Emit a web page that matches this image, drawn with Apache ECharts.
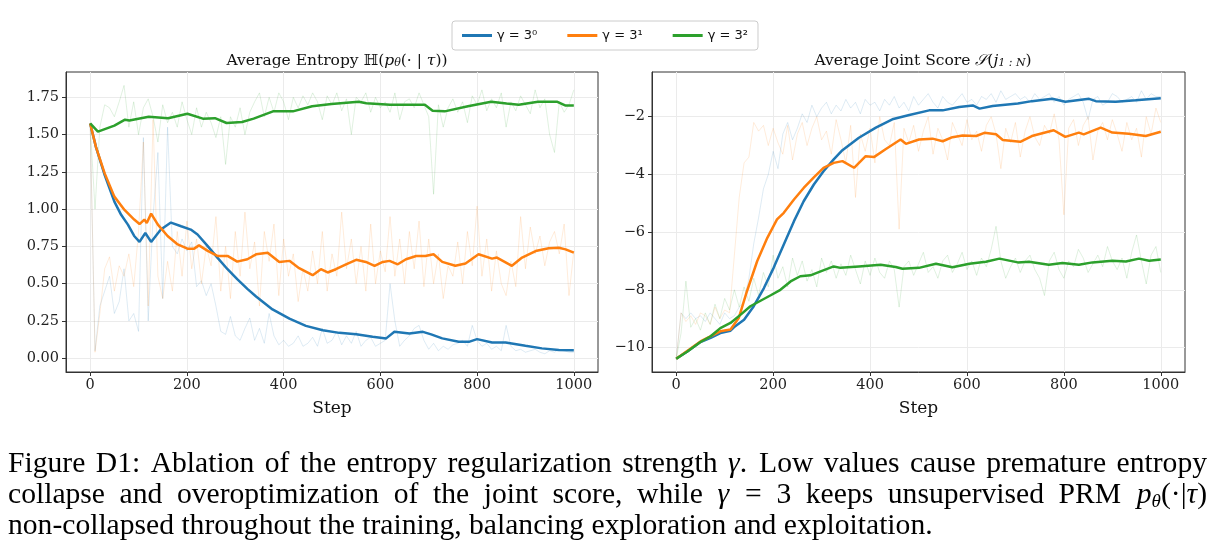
<!DOCTYPE html>
<html>
<head>
<meta charset="utf-8">
<script src="https://cdn.jsdelivr.net/npm/echarts@6/dist/echarts.min.js"></script>
<style>
html,body{margin:0;padding:0;background:#fff;}
#chart{width:1222px;height:560px;}
</style>
</head>
<body>
<div id="chart"></div>
<script>
// raw samples every 10 steps
var rawSteps = [];
for (var k = 0; k <= 100; k++) rawSteps.push(k * 10);

var entropyRaw0 = [1.57,0.05,0.35,0.45,0.55,0.30,0.38,0.60,0.25,0.30,0.18,1.48,0.25,0.95,1.38,0.40,1.55,0.75,0.70,0.80,0.72,0.78,0.48,0.52,0.42,0.50,0.35,0.18,0.16,0.28,0.15,0.12,0.20,0.27,0.12,0.20,0.10,0.30,0.15,0.09,0.12,0.08,0.10,0.15,0.08,0.10,0.14,0.08,0.20,0.10,0.12,0.18,0.09,0.15,0.10,0.18,0.08,0.12,0.14,0.08,0.10,0.12,0.50,0.25,0.08,0.12,0.15,0.20,0.22,0.12,0.06,0.10,0.05,0.08,0.06,0.09,0.10,0.12,0.08,0.22,0.12,0.08,0.10,0.06,0.08,0.05,0.22,0.08,0.05,0.06,0.04,0.05,0.06,0.04,0.03,0.05,0.04,0.06,0.05,0.04,0.04];
var entropyRaw1 = [1.57,0.04,0.30,0.60,0.68,0.45,0.62,0.55,0.70,0.48,0.85,1.45,0.35,1.60,0.55,0.40,0.65,0.45,0.85,0.55,0.92,0.60,0.80,0.50,0.75,0.62,0.95,0.45,0.75,0.40,0.85,0.55,0.98,0.60,0.78,0.35,0.85,0.65,0.90,0.42,0.80,0.55,0.70,0.38,0.60,0.45,0.72,0.50,0.85,0.45,0.70,0.55,0.98,0.60,0.80,0.50,0.75,0.45,0.90,0.50,0.72,0.58,0.95,0.55,0.80,0.50,0.85,0.60,0.92,0.48,0.80,0.50,0.70,0.40,0.62,0.55,0.78,0.50,0.85,0.62,1.02,0.55,0.80,0.45,0.72,0.50,0.42,0.65,0.48,0.95,0.60,0.88,0.70,0.82,0.62,0.78,0.85,0.70,0.90,0.42,0.72];
var entropyRaw2 = [1.57,1.00,1.55,1.70,1.68,1.62,1.72,1.83,1.55,1.72,1.50,1.68,1.74,1.62,1.45,1.70,1.58,1.65,1.55,1.72,1.60,1.50,1.68,1.55,1.65,1.58,1.48,1.62,1.30,1.62,1.55,1.68,1.50,1.65,1.72,1.78,1.62,1.75,1.65,1.78,1.72,1.60,1.75,1.68,1.76,1.70,1.78,1.72,1.60,1.76,1.70,1.78,1.66,1.74,1.50,1.75,1.72,1.78,1.65,1.75,1.68,1.72,1.65,1.78,1.60,1.72,1.74,1.68,1.78,1.70,1.62,1.10,1.70,1.55,1.68,1.74,1.65,1.72,1.58,1.76,1.70,1.80,1.66,1.74,1.68,1.78,1.55,1.72,1.66,1.76,1.70,1.64,1.80,1.68,1.74,1.50,1.38,1.72,1.65,1.70,1.80];

var scoreRaw0 = [-10.4,-8.8,-9.0,-8.8,-9.0,-8.9,-9.1,-8.8,-9.0,-9.2,-8.8,-9.0,-8.9,-8.6,-8.4,-7.6,-6.4,-5.5,-4.5,-4.0,-3.2,-3.8,-2.6,-2.2,-2.8,-2.4,-1.9,-2.2,-1.6,-2.0,-1.7,-1.5,-1.9,-1.6,-1.8,-1.4,-1.7,-1.5,-1.9,-1.4,-1.6,-1.5,-1.8,-1.4,-1.6,-1.3,-1.7,-1.5,-1.8,-1.3,-1.6,-1.4,-1.2,-1.5,-1.7,-1.3,-1.5,-1.6,-1.4,-1.2,-1.5,-1.4,-1.6,-1.3,-1.4,-1.2,-1.5,-1.1,-1.4,-1.3,-1.2,-1.4,-1.3,-1.5,-1.2,-1.4,-1.3,-1.2,-1.5,-1.3,-1.6,-1.4,-1.3,-1.2,-1.5,-2.1,-1.4,-1.3,-1.6,-1.5,-1.2,-1.3,-1.5,-1.4,-1.3,-1.5,-1.1,-1.4,-1.2,-1.3,-1.3];
var scoreRaw1 = [-10.4,-8.8,-9.1,-8.9,-9.2,-8.8,-8.9,-9.2,-8.6,-9.0,-8.7,-8.8,-6.8,-4.8,-3.6,-3.4,-2.2,-2.5,-2.3,-3.0,-2.4,-2.9,-3.3,-2.3,-3.5,-2.6,-2.2,-3.0,-2.4,-2.0,-2.8,-2.5,-3.3,-2.1,-2.8,-3.6,-2.3,-4.8,-2.6,-3.2,-2.4,-3.6,-2.0,-2.8,-3.0,-2.2,-5.9,-2.4,-2.9,-2.3,-3.2,-2.5,-2.0,-3.3,-2.4,-2.8,-3.5,-2.2,-2.6,-3.0,-2.1,-2.8,-2.5,-3.2,-2.3,-2.0,-2.6,-3.8,-2.4,-2.9,-2.2,-3.4,-2.5,-2.0,-2.7,-3.0,-2.3,-2.6,-1.9,-2.8,-5.4,-2.4,-2.1,-3.0,-2.3,-2.0,-3.5,-2.5,-2.2,-2.8,-2.1,-2.6,-3.2,-2.2,-2.8,-2.4,-3.4,-2.0,-2.6,-1.7,-2.2];
var scoreRaw2 = [-10.4,-9.5,-7.7,-9.3,-9.0,-9.4,-8.8,-9.2,-8.5,-9.0,-8.3,-8.7,-8.0,-8.6,-7.9,-8.4,-7.6,-8.2,-7.4,-7.9,-6.8,-7.6,-7.2,-7.9,-6.9,-7.5,-7.0,-7.7,-7.3,-7.9,-6.9,-7.4,-7.0,-7.6,-7.1,-7.5,-6.8,-7.3,-7.8,-7.0,-7.5,-6.9,-7.4,-7.6,-7.0,-7.3,-8.6,-7.2,-7.0,-7.5,-7.1,-6.7,-7.4,-7.2,-7.6,-7.0,-6.8,-7.4,-7.1,-6.7,-7.3,-7.0,-7.5,-6.9,-7.2,-6.6,-5.8,-7.0,-7.6,-7.2,-6.9,-7.4,-7.0,-6.8,-7.3,-7.6,-8.2,-7.0,-6.7,-7.3,-7.6,-7.0,-7.2,-6.6,-6.9,-7.4,-7.1,-6.8,-7.2,-6.5,-7.0,-7.3,-6.9,-7.6,-6.7,-6.1,-7.0,-7.8,-6.8,-6.5,-7.4];

// smoothed curves, [step, value]
var entropySmooth0 = [[0,1.575],[12,1.416],[30,1.228],[50,1.05],[64,0.962],[78,0.896],[91,0.82],[102,0.78],[114,0.84],[126,0.78],[146,0.863],[167,0.91],[188,0.885],[208,0.863],[222,0.83],[243,0.752],[263,0.675],[284,0.597],[304,0.53],[325,0.465],[343,0.414],[377,0.327],[412,0.265],[446,0.217],[481,0.188],[515,0.17],[550,0.16],[584,0.144],[612,0.133],[629,0.177],[660,0.166],[688,0.177],[705,0.16],[728,0.133],[762,0.11],[783,0.11],[800,0.128],[831,0.106],[859,0.106],[900,0.084],[934,0.066],[969,0.055],[1000,0.053]];
var entropySmooth1 = [[0,1.575],[12,1.416],[30,1.24],[50,1.084],[71,0.995],[91,0.93],[102,0.90],[112,0.93],[117,0.907],[126,0.97],[140,0.896],[160,0.82],[181,0.763],[201,0.735],[215,0.735],[225,0.757],[243,0.72],[263,0.686],[284,0.686],[304,0.648],[325,0.664],[343,0.697],[367,0.708],[391,0.646],[412,0.653],[432,0.604],[460,0.557],[477,0.597],[491,0.575],[508,0.597],[529,0.63],[550,0.66],[570,0.646],[588,0.62],[605,0.646],[619,0.653],[636,0.63],[653,0.664],[674,0.686],[693,0.686],[710,0.697],[728,0.646],[755,0.62],[776,0.635],[803,0.697],[831,0.668],[841,0.675],[872,0.62],[893,0.675],[921,0.719],[948,0.737],[969,0.741],[983,0.73],[1000,0.708]];
var entropySmooth2 = [[0,1.575],[16,1.52],[50,1.56],[72,1.60],[81,1.595],[121,1.62],[161,1.61],[201,1.64],[233,1.607],[258,1.61],[282,1.578],[314,1.585],[338,1.607],[378,1.656],[419,1.656],[459,1.69],[499,1.705],[555,1.72],[571,1.71],[620,1.70],[660,1.70],[692,1.70],[708,1.66],[733,1.656],[781,1.69],[829,1.72],[861,1.708],[886,1.70],[926,1.72],[966,1.72],[982,1.696],[1000,1.696]];

var scoreSmooth0 = [[0,-10.39],[23,-10.14],[50,-9.81],[71,-9.67],[91,-9.5],[112,-9.42],[119,-9.30],[140,-9.04],[160,-8.57],[181,-7.94],[201,-7.24],[222,-6.43],[243,-5.62],[263,-4.93],[284,-4.35],[304,-3.89],[325,-3.48],[343,-3.16],[377,-2.73],[412,-2.38],[446,-2.09],[481,-1.94],[522,-1.78],[550,-1.78],[584,-1.66],[612,-1.61],[626,-1.72],[653,-1.63],[705,-1.54],[734,-1.46],[776,-1.38],[803,-1.48],[852,-1.38],[866,-1.46],[907,-1.48],[948,-1.43],[1000,-1.36]];
var scoreSmooth1 = [[0,-10.39],[50,-9.79],[91,-9.44],[112,-9.38],[129,-8.98],[146,-8.05],[167,-7.01],[188,-6.2],[208,-5.56],[222,-5.33],[243,-4.87],[263,-4.47],[284,-4.1],[304,-3.77],[325,-3.6],[343,-3.54],[367,-3.77],[391,-3.37],[408,-3.40],[432,-3.13],[463,-2.79],[474,-2.94],[501,-2.79],[529,-2.76],[550,-2.85],[570,-2.71],[591,-2.65],[619,-2.67],[636,-2.56],[660,-2.61],[674,-2.81],[710,-2.87],[734,-2.67],[779,-2.47],[803,-2.70],[831,-2.55],[841,-2.61],[876,-2.38],[900,-2.55],[934,-2.59],[969,-2.67],[1000,-2.52]];
var scoreSmooth2 = [[0,-10.39],[23,-10.14],[50,-9.81],[71,-9.61],[91,-9.33],[112,-9.15],[133,-8.86],[153,-8.57],[174,-8.38],[195,-8.19],[215,-8.0],[236,-7.71],[256,-7.53],[277,-7.5],[298,-7.36],[325,-7.19],[339,-7.24],[377,-7.19],[422,-7.13],[453,-7.21],[467,-7.27],[501,-7.24],[536,-7.10],[570,-7.22],[605,-7.10],[639,-7.03],[667,-6.92],[705,-7.05],[728,-7.03],[769,-7.13],[797,-7.07],[831,-7.13],[859,-7.05],[900,-6.99],[928,-7.02],[955,-6.92],[976,-6.99],[1000,-6.95]];

var seriesNames = ['γ = 3⁰', 'γ = 3¹', 'γ = 3²'];
var colors = ['#1f77b4', '#ff7f0e', '#2ca02c'];
var xTicks = [0, 200, 400, 600, 800, 1000];
var entropyTicks = [0, 0.25, 0.5, 0.75, 1.0, 1.25, 1.5, 1.75];
var scoreTicks = [-10, -8, -6, -4, -2];

// caption lines; {m|..} italic math, {sub|..} subscript
var captionLines = [
  'Figure D1: Ablation of the entropy regularization strength {m|γ}. Low values cause premature entropy',
  'collapse and overoptimization of the joint score, while {m|γ} = 3 keeps unsupervised PRM {m|p}{sub|θ}(·|{m|τ})',
  'non-collapsed throughout the training, balancing exploration and exploitation.'
];
var captionJustify = [true, true, false];

function pairs(vals){
	var out = [];
	for (var i = 0; i < vals.length; i++) out.push([rawSteps[i], vals[i]]);
	return out;
}

var capFont = 'Liberation Serif';
var capSize = 29.6;
var capRich = {
	m: {fontFamily: capFont, fontSize: capSize, fontStyle: 'italic', color: '#000'},
	sub: {fontFamily: capFont, fontSize: 19, fontStyle: 'italic', color: '#000', padding: [12, 0, 0, 0]}
};
var measureCtx = document.createElement('canvas').getContext('2d');
function wordWidth(w){
	var plain = w.replace(/\{sub\|([^}]*)\}/g, '').replace(/\{m\|([^}]*)\}/g, '$1');
	measureCtx.font = capSize + 'px "' + capFont + '"';
	var wd = measureCtx.measureText(plain).width;
	var subs = w.match(/\{sub\|([^}]*)\}/g);
	if (subs) {
		measureCtx.font = '19px "' + capFont + '"';
		subs.forEach(function(s){ wd += measureCtx.measureText(s.slice(5, -1)).width; });
	}
	return wd;
}
function captionGraphics(){
	var out = [];
	var left = 8, right = 1207, top0 = 449, lineH = 31;
	captionLines.forEach(function(line, li){
		var top = top0 + li * lineH;
		if (!captionJustify[li]) {
			out.push({type: 'text', x: left, y: top, style: {text: line, fontFamily: capFont, fontSize: capSize, fill: '#000', rich: capRich, verticalAlign: 'top'}});
			return;
		}
		var words = line.split(' ');
		var total = 0;
		words.forEach(function(w){ total += wordWidth(w); });
		var gap = (right - left - total) / (words.length - 1);
		var x = left;
		words.forEach(function(w, wi){
			var last = wi === words.length - 1;
			out.push({type: 'text', x: last ? right : x, y: top,
				style: {text: w, fontFamily: capFont, fontSize: capSize, fill: '#000', rich: capRich, verticalAlign: 'top', align: last ? 'right' : 'left'}});
			x += wordWidth(w) + gap;
		});
	});
	return out;
}

var myChart = echarts.init(document.getElementById('chart'));
var serif = 'DejaVu Serif';
var tickFont = {fontFamily: serif, fontSize: 14.5, color: '#222'};

function xAxisFor(idx){
	return {
		type: 'value', gridIndex: idx, min: -50, max: 1050,
		name: 'Step', nameLocation: 'middle', nameGap: 28,
		nameTextStyle: {fontFamily: serif, fontSize: 17, color: '#111'},
		axisLine: {show: true, onZero: false, lineStyle: {color: '#333', width: 1}},
		axisTick: {show: true, length: 4, customValues: xTicks, lineStyle: {color: '#333'}},
		axisLabel: Object.assign({customValues: xTicks, margin: 6, formatter: function(v){ return String(v); }}, tickFont),
		splitLine: {show: true, lineStyle: {color: '#ebebeb', width: 1}}
	};
}
function yAxisFor(idx, min, max, ticks, fmt){
	return {
		type: 'value', gridIndex: idx, min: min, max: max,
		axisLine: {show: true, onZero: false, lineStyle: {color: '#333', width: 1}},
		axisTick: {show: true, length: 4, customValues: ticks, lineStyle: {color: '#333'}},
		axisLabel: Object.assign({customValues: ticks, margin: 7, formatter: fmt}, tickFont),
		splitLine: {show: true, lineStyle: {color: '#ebebeb', width: 1}}
	};
}

var series = [];
var raws = [[entropyRaw0, entropyRaw1, entropyRaw2], [scoreRaw0, scoreRaw1, scoreRaw2]];
var smooths = [[entropySmooth0, entropySmooth1, entropySmooth2], [scoreSmooth0, scoreSmooth1, scoreSmooth2]];
for (var g = 0; g < 2; g++) {
	for (var s = 0; s < 3; s++) {
		series.push({
			name: 'raw' + g + s, type: 'line', xAxisIndex: g, yAxisIndex: g,
			data: pairs(raws[g][s]), showSymbol: false, silent: true,
			lineStyle: {color: colors[s], width: 1, opacity: 0.15}, z: 1
		});
	}
	for (var s = 0; s < 3; s++) {
		series.push({
			name: seriesNames[s], type: 'line', xAxisIndex: g, yAxisIndex: g,
			data: smooths[g][s], showSymbol: false, color: colors[s],
			lineStyle: {color: colors[s], width: 2.5}, z: 3 + s
		});
	}
}

var titleRich = {
	i: {fontFamily: serif, fontStyle: 'italic', fontSize: 15.5, color: '#111'},
	s: {fontFamily: serif, fontStyle: 'italic', fontSize: 11, color: '#111', padding: [6, 0, 0, 0]}
};

var option = {
	backgroundColor: '#fff',
	animation: false,
	title: [
		{
			text: 'Average Entropy ℍ({i|p}{s|θ}(· | {i|τ}))', left: 332, top: 47, textAlign: 'center',
			textStyle: {fontFamily: serif, fontSize: 15.5, fontWeight: 'normal', color: '#111', rich: titleRich}
		},
		{
			text: 'Average Joint Score {i|𝒮}({i|j}{s|1 : N})', left: 918, top: 47, textAlign: 'center',
			textStyle: {fontFamily: serif, fontSize: 15.5, fontWeight: 'normal', color: '#111', rich: titleRich}
		}
	],
	legend: {
		data: seriesNames, left: 452, top: 21,
		icon: 'rect', itemWidth: 30, itemHeight: 3, itemGap: 30,
		textStyle: {fontFamily: 'DejaVu Sans', fontSize: 13, color: '#111'},
		borderColor: '#ccc', borderWidth: 1, borderRadius: 3, padding: [8, 10, 8, 10]
	},
	grid: [
		{left: 66, top: 72, width: 532, height: 300, show: true, borderColor: '#333', borderWidth: 1, backgroundColor: 'transparent'},
		{left: 652, top: 72, width: 533, height: 300, show: true, borderColor: '#333', borderWidth: 1, backgroundColor: 'transparent'}
	],
	xAxis: [xAxisFor(0), xAxisFor(1)],
	yAxis: [
		yAxisFor(0, -0.0925, 1.92, entropyTicks, function(v){ return v.toFixed(2); }),
		yAxisFor(1, -10.85, -0.45, scoreTicks, function(v){ return String(v).replace('-', '\u2212'); })
	],
	graphic: captionGraphics(),
	series: series
};

myChart.setOption(option);
</script>
</body>
</html>
